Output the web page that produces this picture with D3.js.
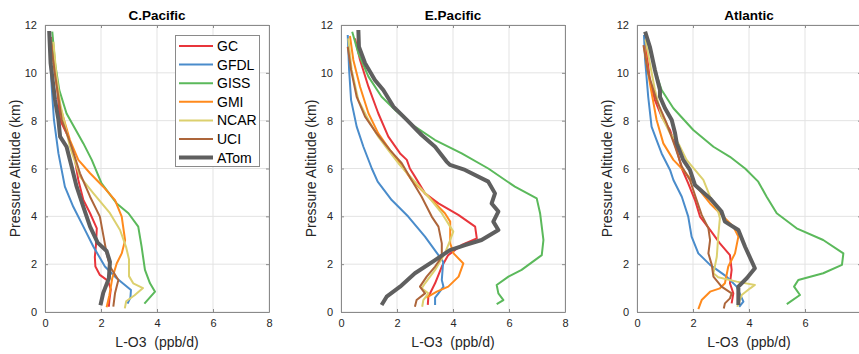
<!DOCTYPE html>
<meta charset="utf-8">
<script src="https://cdnjs.cloudflare.com/ajax/libs/d3/7.8.5/d3.min.js"></script>
<style>
  body { margin: 0; background: #fff; }
  text { font-family: "Liberation Sans", Arial, Helvetica, sans-serif; }
</style>
<body>
<script>

// DATA: each series is [L-O3 (ppb/d), pressure altitude (km)]

var models = ['GC', 'GFDL', 'GISS', 'GMI', 'NCAR', 'UCI', 'ATom'];
var colors = ['#e8353b', '#4a8ccb', '#5bb95b', '#ff8a1c', '#dcd06e', '#ad653a', '#5f5f5f'];
var regions = ['C.Pacific', 'E.Pacific', 'Atlantic'];
var xTicks = [0, 2, 4, 6, 8];
var yTicks = [0, 2, 4, 6, 8, 10, 12];

var cpGC = [[0.25,11.5],[0.4,9.8],[0.54,8.03],[0.83,7.33],[1.07,6.36],[1.19,5.52],[1.37,4.68],[1.61,4.13],[1.85,3.5],[1.82,2.8],[1.78,2.3],[1.8,1.9],[1.96,1.55],[2.25,1.3],[2.35,0.95],[2.3,0.5],[2.28,0.22]];
var cpGFDL = [[0.15,11.2],[0.18,10.8],[0.24,9.4],[0.32,8.03],[0.48,6.63],[0.71,5.24],[1.01,4.4],[1.37,3.57],[1.73,2.73],[2.14,1.9],[2.56,1.41],[3.07,0.92],[3.05,0.6],[2.95,0.35]];
var cpGISS = [[0.26,11.72],[0.36,10.4],[0.51,9.28],[0.77,8.3],[1.37,7.05],[1.67,6.36],[2.02,5.38],[2.56,4.54],[2.98,4.13],[3.33,3.57],[3.45,2.73],[3.57,1.76],[3.75,1.2],[3.93,0.85],[3.55,0.35]];
var cpGMI = [[0.2,11.3],[0.35,10],[0.54,8.59],[0.89,7.19],[1.19,6.36],[1.61,5.8],[2.08,5.24],[2.5,4.68],[2.74,3.99],[2.86,3.0],[2.74,2.45],[2.56,2.03],[2.4,1.4],[2.3,0.7],[2.2,0.2]];
var cpNCAR = [[0.3,11.3],[0.4,10],[0.54,8.72],[0.89,6.91],[1.25,5.66],[1.73,4.96],[2.32,4.13],[2.68,3.43],[2.9,2.7],[3.0,2.2],[3.0,1.5],[3.15,1.2],[3.5,1.0],[3.2,0.7],[2.9,0.45],[2.85,0.15]];
var cpUCI = [[0.2,11.4],[0.35,10],[0.6,8.03],[0.95,6.91],[1.25,5.8],[1.61,4.82],[1.96,3.99],[2.1,3.1],[2.2,2.45],[2.32,1.9],[2.62,1.34],[2.5,0.78],[2.44,0.22]];
var cpATom = [[0.15,11.75],[0.2,10.4],[0.36,8.86],[0.48,8.03],[0.54,7.33],[0.77,6.91],[0.95,6.08],[1.13,5.24],[1.37,4.4],[1.61,3.57],[1.88,2.9],[2.2,2.55],[2.32,2.1],[2.28,1.4],[2.08,0.8],[1.98,0.28]];

var epGC = [[0.5,11.44],[0.68,10.54],[0.98,9.42],[1.33,8.31],[1.69,7.33],[2.11,6.63],[2.35,6.36],[2.46,6.0],[2.64,5.66],[3.0,4.96],[3.48,4.54],[4.19,4.06],[4.79,3.57],[4.85,3.08],[4.31,2.8],[3.83,2.38],[3.6,1.9],[3.36,1.2],[3.24,0.92],[3.12,0.64],[3.1,0.3]];
var epGFDL = [[0.24,11.58],[0.29,10.12],[0.36,8.86],[0.56,7.75],[0.8,6.91],[1.1,6.0],[1.31,5.45],[1.81,4.68],[2.4,3.99],[3.0,3.15],[3.48,2.38],[3.65,2.1],[3.6,1.34],[3.66,1.06],[3.48,0.78],[3.36,0.6],[3.36,0.29]];
var epGISS = [[0.4,11.72],[0.62,10.82],[0.98,9.84],[1.45,9.0],[1.99,8.38],[2.64,7.75],[3.36,7.19],[4.31,6.63],[5.26,6.0],[6.21,5.24],[6.99,4.75],[7.11,4.13],[7.23,3.01],[7.17,2.38],[6.45,1.76],[5.98,1.48],[5.56,1.13],[5.62,0.78],[5.8,0.5],[5.56,0.33]];
var epGMI = [[0.32,11.54],[0.44,10.54],[0.68,9.42],[0.98,8.31],[1.33,7.47],[1.75,6.77],[2.11,6.22],[2.52,5.52],[3.24,4.68],[3.71,4.13],[3.9,3.78],[3.9,2.87],[4.02,2.45],[4.37,2.03],[4.2,1.48],[3.83,1.06],[3.42,0.85],[3.05,0.6]];
var epNCAR = [[0.26,11.44],[0.38,10.12],[0.62,8.86],[0.98,8.03],[1.33,7.33],[1.69,6.77],[2.05,6.22],[2.58,5.52],[3.12,4.82],[3.6,4.13],[3.9,3.57],[4.01,3.36],[3.9,3.01],[3.71,2.45],[3.36,1.76],[3.0,1.2],[2.88,0.99],[3.12,0.78],[2.94,0.5],[2.9,0.22]];
var epUCI = [[0.24,11.09],[0.36,10.12],[0.56,9.0],[0.86,8.17],[1.27,7.47],[1.75,6.77],[2.17,6.22],[2.52,5.52],[2.88,4.82],[3.24,3.99],[3.48,3.57],[3.6,2.87],[3.6,2.31],[3.36,1.9],[3.06,1.48],[2.82,1.06],[3.0,0.78],[2.7,0.5],[2.64,0.22]];
var epATom = [[0.62,11.79],[0.64,11.09],[0.86,10.4],[1.21,9.7],[1.51,9.28],[1.87,8.59],[2.35,8.03],[2.88,7.4],[3.36,6.91],[3.77,6.29],[3.89,6.15],[4.43,5.94],[5.26,5.45],[5.5,4.96],[5.38,4.54],[5.62,4.2],[5.44,3.78],[5.62,3.43],[5.02,3.01],[4.43,2.8],[3.89,2.59],[3.36,2.17],[2.64,1.62],[2.11,1.06],[1.63,0.64],[1.45,0.29]];

var atGC = [[0.3,11.3],[0.46,9.7],[0.64,8.86],[0.88,8.17],[1.18,7.61],[1.42,6.77],[1.6,6.0],[1.83,5.38],[2.07,4.68],[2.25,3.99],[2.61,3.43],[2.96,2.87],[3.32,2.38],[3.38,1.76],[3.32,1.2],[3.44,0.78],[3.38,0.36]];
var atGFDL = [[0.25,11.58],[0.29,10.54],[0.4,9.0],[0.52,7.75],[0.7,7.19],[0.88,6.63],[1.18,5.94],[1.3,5.52],[1.6,4.82],[1.83,3.99],[1.95,3.15],[2.19,2.45],[2.61,1.97],[3.2,1.48],[3.56,1.06],[3.8,0.43],[3.65,0.22]];
var atGISS = [[0.35,11.4],[0.5,10.8],[0.64,10.12],[0.88,9.28],[1.3,8.52],[2.01,7.61],[2.73,6.91],[3.32,6.49],[3.86,6.0],[4.33,5.45],[4.63,4.82],[4.99,4.13],[5.7,3.5],[6.65,3.01],[7.37,2.45],[7.32,1.97],[6.65,1.62],[5.76,1.34],[5.61,1.06],[5.82,0.71],[5.35,0.33]];
var atGMI = [[0.25,11.1],[0.29,10.82],[0.46,9.56],[0.7,8.03],[0.94,7.05],[1.3,6.36],[1.65,5.94],[2.13,5.24],[2.61,4.54],[3.08,3.99],[3.44,3.57],[3.62,3.15],[3.5,2.45],[3.26,1.9],[3.14,1.2],[2.96,0.99],[2.61,0.85],[2.31,0.5],[2.19,0.12]];
var atNCAR = [[0.3,11.4],[0.46,10.4],[0.64,9.28],[0.88,8.17],[1.18,7.47],[1.48,7.05],[1.77,6.36],[2.07,5.94],[2.37,5.52],[2.61,4.82],[2.9,4.2],[2.96,3.92],[2.9,3.15],[2.85,2.31],[2.73,1.62],[2.9,1.45],[3.56,1.27],[4.21,1.13],[4.04,0.99],[3.74,0.71],[3.58,0.22]];
var atUCI = [[0.23,11.16],[0.4,9.98],[0.7,8.86],[1.06,7.89],[1.36,6.91],[1.6,6.08],[1.89,5.52],[2.13,4.68],[2.31,4.06],[2.55,3.5],[2.61,3.01],[2.55,2.45],[2.67,1.97],[2.73,1.48],[3.02,1.06],[3.38,0.78],[3.32,0.57],[3.14,0.36],[3.1,0.15]];
var atATom = [[0.29,11.72],[0.46,11.09],[0.64,10.12],[0.82,9.28],[0.82,9.0],[1.0,8.52],[1.24,8.03],[1.36,7.47],[1.42,7.05],[1.65,6.36],[1.89,5.94],[2.07,5.31],[2.61,4.75],[3.02,4.2],[3.14,3.78],[3.62,3.43],[3.86,2.73],[4.21,1.83],[3.92,1.41],[3.62,1.06],[3.62,0.29]];

var panelSeries = [
  [cpGC, cpGFDL, cpGISS, cpGMI, cpNCAR, cpUCI, cpATom],
  [epGC, epGFDL, epGISS, epGMI, epNCAR, epUCI, epATom],
  [atGC, atGFDL, atGISS, atGMI, atNCAR, atUCI, atATom]
];


// LAYOUT

var width = 859;
var height = 354;
var panelLeft = [45, 341, 637];
var panelWidth = 224;
var plotTop = 25;
var plotBottom = 312;
var axisColor = '#262626';

var svg = d3.select('body')
  .append('svg')
  .attr('width', width)
  .attr('height', height);

var yScale = d3.scaleLinear()
  .domain([0, 12])
  .range([plotBottom, plotTop]);


// PANELS

regions.forEach(function(name, p) {
  var x0 = panelLeft[p];
  var xScale = d3.scaleLinear()
    .domain([0, 8])
    .range([x0, x0 + panelWidth]);

  var g = svg.append('g');

  // grid
  g.selectAll('.gx').data(xTicks).enter().append('line')
    .attr('x1', function(d) { return xScale(d); })
    .attr('x2', function(d) { return xScale(d); })
    .attr('y1', plotTop).attr('y2', plotBottom)
    .attr('stroke', '#e3e3e3').attr('stroke-width', 1);
  g.selectAll('.gy').data(yTicks).enter().append('line')
    .attr('x1', x0).attr('x2', x0 + panelWidth)
    .attr('y1', function(d) { return yScale(d); })
    .attr('y2', function(d) { return yScale(d); })
    .attr('stroke', '#e3e3e3').attr('stroke-width', 1);

  // lines
  var line = d3.line()
    .x(function(d) { return xScale(d[0]); })
    .y(function(d) { return yScale(d[1]); });

  panelSeries[p].forEach(function(series, i) {
    g.append('path')
      .datum(series)
      .attr('d', line)
      .attr('fill', 'none')
      .attr('stroke', colors[i])
      .attr('stroke-width', models[i] === 'ATom' ? 4 : 2)
      .attr('stroke-linejoin', 'round')
      .attr('stroke-linecap', 'butt');
  });

  // axes (box, inward ticks); the last panel runs past the page edge
  var xAxis = d3.axisBottom(xScale).tickValues(xTicks).tickSizeInner(-3).tickSizeOuter(0).tickPadding(7)
    .tickFormat(function(d) { return xScale(d) + 5 > width ? '' : d; });
  var yAxis = d3.axisLeft(yScale).tickValues(yTicks).tickSizeInner(-3).tickSizeOuter(0).tickPadding(8);
  var xTop = d3.axisTop(xScale).tickValues(xTicks).tickSizeInner(-3).tickSizeOuter(0).tickFormat('');
  var yRight = d3.axisRight(yScale).tickValues(yTicks).tickSizeInner(-3).tickSizeOuter(0).tickFormat('');

  [
    g.append('g').attr('transform', 'translate(0,' + plotBottom + ')').call(xAxis),
    g.append('g').attr('transform', 'translate(' + x0 + ',0)').call(yAxis),
    g.append('g').attr('transform', 'translate(0,' + plotTop + ')').call(xTop),
    g.append('g').attr('transform', 'translate(' + (x0 + panelWidth) + ',0)').call(yRight)
  ].forEach(function(a) {
    a.select('.domain').attr('stroke', '#8a8a8a').attr('stroke-width', 1);
    a.selectAll('.tick line').attr('stroke', '#8a8a8a');
    a.selectAll('.tick text')
      .attr('fill', axisColor)
      .style('font-size', '11px')
      .style('font-family', '"Liberation Sans", Arial, sans-serif');
  });

  // title
  g.append('text')
    .attr('x', x0 + panelWidth / 2)
    .attr('y', 20)
    .attr('text-anchor', 'middle')
    .style('font-size', '13.5px')
    .style('font-weight', 'bold')
    .attr('fill', '#000')
    .text(name);

  // axis labels
  g.append('text')
    .attr('x', x0 + panelWidth / 2)
    .attr('y', 347)
    .attr('text-anchor', 'middle')
    .style('font-size', '14px')
    .style('white-space', 'pre')
    .attr('fill', axisColor)
    .text('L-O3  (ppb/d)');

  g.append('text')
    .attr('transform', 'translate(' + (x0 - 25) + ',' + ((plotTop + plotBottom) / 2) + ')rotate(-90)')
    .attr('text-anchor', 'middle')
    .style('font-size', '14px')
    .attr('fill', axisColor)
    .text('Pressure Altitude (km)');
});


// LEGEND (first panel only)

var legend = svg.append('g');
legend.append('rect')
  .attr('x', 175.5).attr('y', 35.5)
  .attr('width', 84).attr('height', 131)
  .attr('fill', '#fff')
  .attr('stroke', '#8a8a8a')
  .attr('stroke-width', 1);

var entries = legend.selectAll('.entry')
  .data(models)
  .enter().append('g')
  .attr('transform', function(d, i) { return 'translate(0,' + (46 + i * 18.6) + ')'; });

entries.append('line')
  .attr('x1', 179).attr('x2', 213)
  .attr('stroke', function(d, i) { return colors[i]; })
  .attr('stroke-width', function(d) { return d === 'ATom' ? 4 : 2; });

entries.append('text')
  .attr('x', 217)
  .attr('y', 5)
  .style('font-size', '14px')
  .attr('fill', '#000')
  .text(function(d) { return d; });

</script>
</body>
